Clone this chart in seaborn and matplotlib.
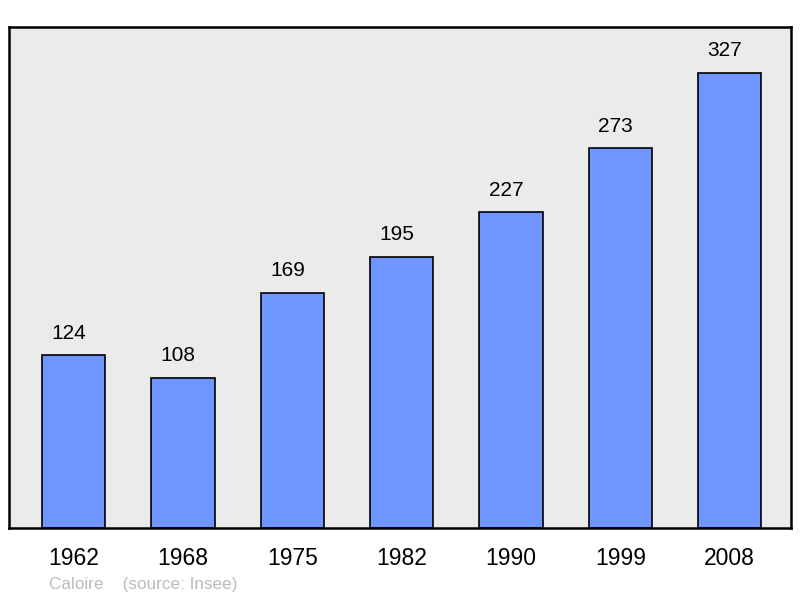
import numpy as np
import pandas as pd
import seaborn as sns
import matplotlib.pyplot as plt

years = ["1962", "1968", "1975", "1982", "1990", "1999", "2008"]
population = [124, 108, 169, 195, 227, 273, 327]

df = pd.DataFrame({"year": years, "pop": population})

sns.set_style("white")
plt.rcParams['font.family'] = ['Liberation Sans', 'DejaVu Sans']
plt.rcParams['text.color'] = 'black'
plt.rcParams['xtick.color'] = 'black'

fig = plt.figure(figsize=(8, 5.98), dpi=100)
ax = fig.add_axes([9 / 800, 70 / 598, 782 / 800, 501 / 598])
ax.set_facecolor("#ebebeb")

sns.barplot(data=df, x="year", y="pop", color="#6f96ff", saturation=1,
            width=0.58, edgecolor="black", linewidth=1.2, ax=ax)

# labels sit a bit left of the bar centre in the original
for i, v in enumerate(population):
    ax.text(i - 0.045, v + 9, str(v), ha="center", va="bottom", fontsize=15)

ax.set_ylim(0, 360)
ax.set_xlim(-0.59, 6.56)
ax.set_yticks([])
ax.set_xlabel("")
ax.set_ylabel("")
ax.tick_params(axis="x", length=0, pad=14, labelsize=16.5)
for s in ax.spines.values():
    s.set_linewidth(1.8)
    s.set_color("black")

fig.text(49 / 800, 1 - 584 / 598, "Caloire    (source: Insee)", color="#bbbbbb",
         fontsize=12.3, va="center", ha="left")

fig.savefig("out.png", dpi=100)
